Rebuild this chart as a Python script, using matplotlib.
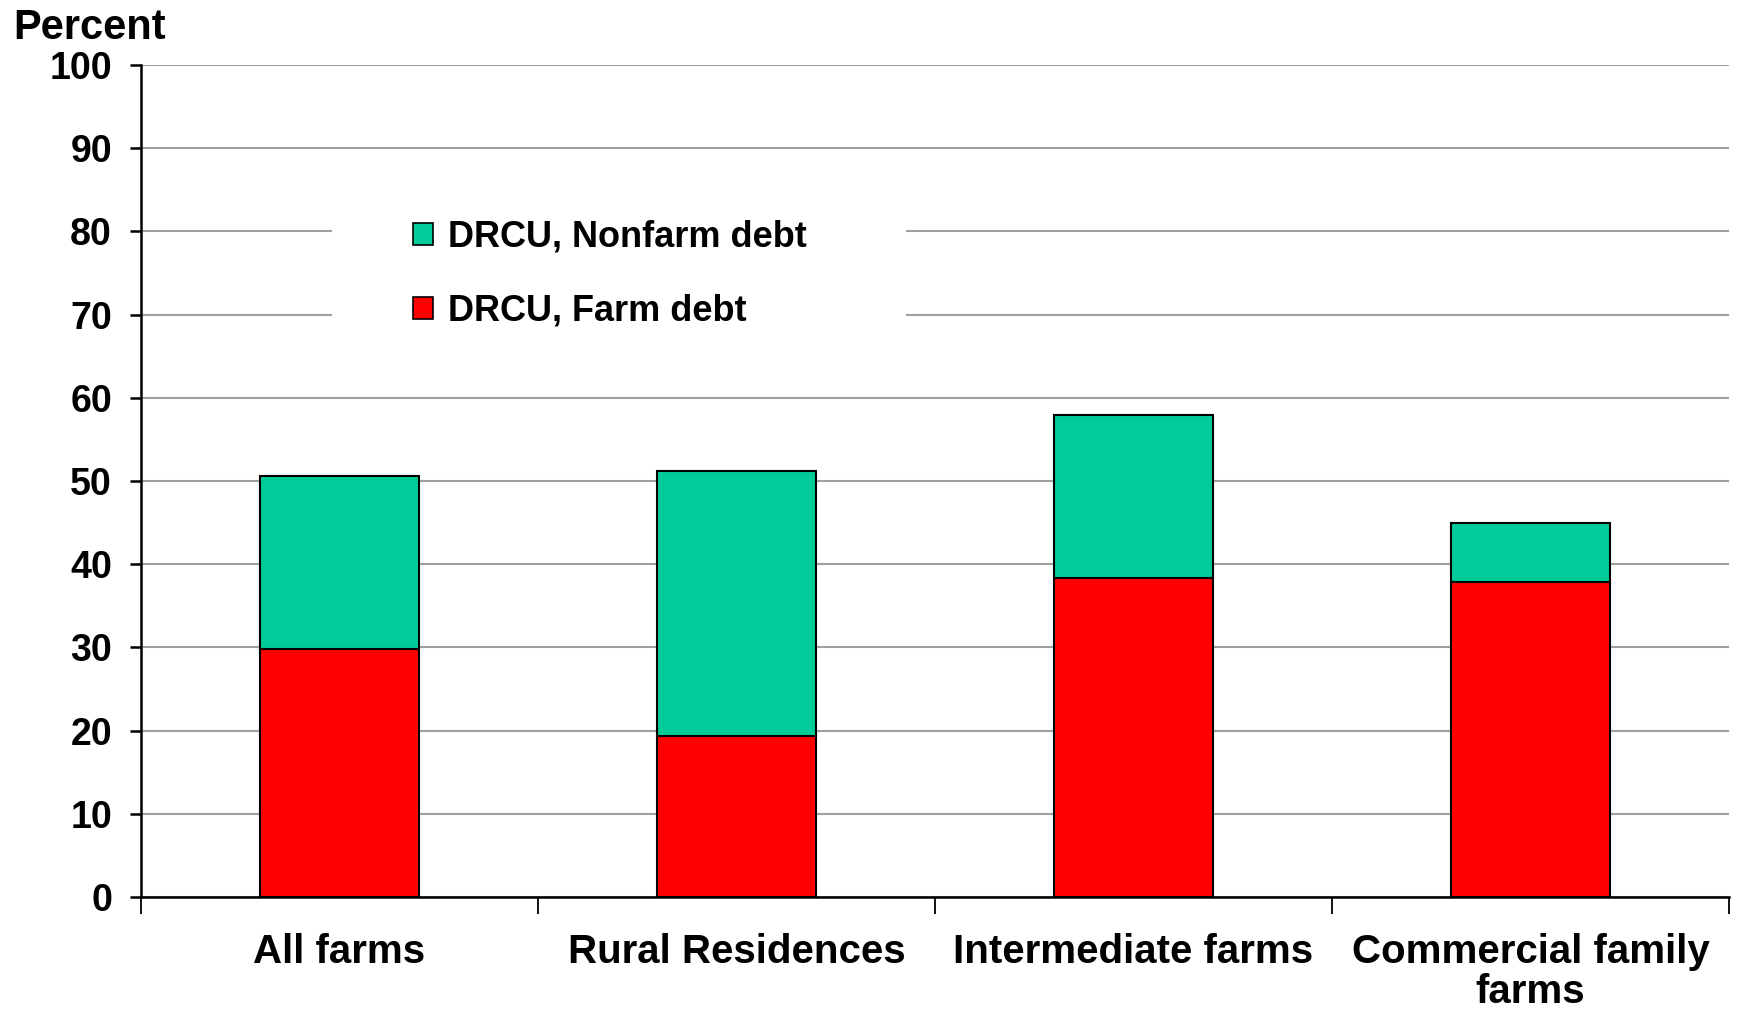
import numpy as np
import matplotlib.pyplot as plt
from matplotlib.patches import Rectangle

plt.rcParams['font.family'] = ['Liberation Sans', 'DejaVu Sans']
plt.rcParams['font.weight'] = 'bold'

categories = ['All farms', 'Rural Residences', 'Intermediate farms', 'Commercial family\nfarms']
farm_debt = [29.8, 19.4, 38.3, 37.9]
nonfarm_debt = [20.8, 31.8, 19.6, 7.0]
yticks = [0, 10, 20, 30, 40, 50, 60, 70, 80, 90, 100]

green = '#00CC99'
red = '#FF0000'

fig = plt.figure(figsize=(17.37, 10.09), dpi=100)
ax = fig.add_axes([0.0812, 0.111, 0.9142, 0.8246])

x = np.arange(len(categories))
w = 0.40
ax.bar(x, farm_debt, w, color=red, edgecolor='black', linewidth=1.5,
       label='DRCU, Farm debt', zorder=3)
ax.bar(x, nonfarm_debt, w, bottom=farm_debt, color=green, edgecolor='black',
       linewidth=1.5, label='DRCU, Nonfarm debt', zorder=3)

ax.set_xlim(-0.5, len(categories) - 0.5)
ax.set_ylim(0, 100)
ax.set_yticks(yticks)
ax.yaxis.grid(True, color='#a0a0a0', linewidth=1.5)
ax.set_axisbelow(True)

# white block behind the legend hides the gridlines there
ax.add_patch(Rectangle((-0.02, 64.5), 1.447, 21, facecolor='white',
                       edgecolor='none', zorder=2))

for s in ['top', 'right']:
    ax.spines[s].set_visible(False)
for s in ['left', 'bottom']:
    ax.spines[s].set_linewidth(1.8)
    ax.spines[s].set_color('black')

ax.tick_params(axis='y', direction='out', length=8, width=1.8, pad=13,
               labelsize=27)
ax.set_xticks(x)
ax.set_xticklabels(categories, fontsize=29, fontweight='bold', linespacing=1.05)
ax.set_xticks(np.arange(-0.5, len(categories), 1.0), minor=True)
ax.tick_params(axis='x', which='major', length=0, pad=26)
ax.tick_params(axis='x', which='minor', length=12, width=1.3)
for lab in ax.get_yticklabels():
    lab.set_fontweight('bold')

handles, labels = ax.get_legend_handles_labels()
leg = ax.legend(handles[::-1], labels[::-1], loc='center left',
                bbox_to_anchor=(0.238, 0.7285, 0.0, 0.0),
                bbox_transform=fig.transFigure,
                prop={'size': 26, 'weight': 'bold'},
                frameon=False,
                handlelength=0.55, handleheight=0.55, handletextpad=0.4,
                labelspacing=1.08, borderpad=0, borderaxespad=0)
leg.set_zorder(5)
for h in leg.legend_handles:
    h.set_linewidth(1.2)

fig.text(0.0075, 0.961, 'Percent', fontsize=30, fontweight='bold',
         va='baseline', ha='left')

fig.savefig('out.png', dpi=100, facecolor='white')
